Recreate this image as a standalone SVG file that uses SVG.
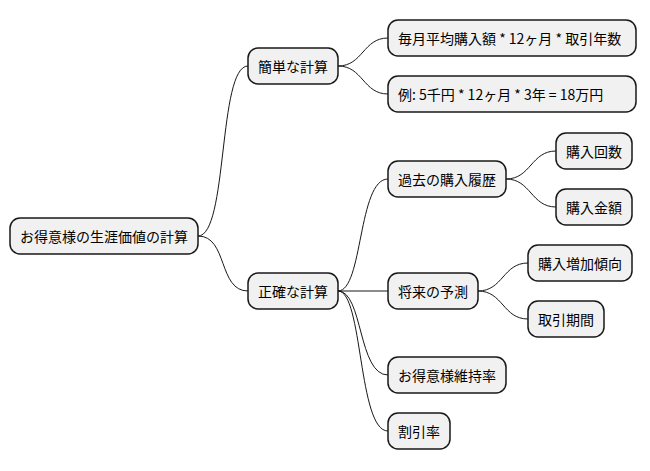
<svg xmlns="http://www.w3.org/2000/svg" width="650" height="471" viewBox="0 0 650 471">
<style>
.n rect{fill:#F1F1F1;stroke:#181818;stroke-width:1.5}
.n text{font-family:"Noto Sans CJK JP","Noto Sans",sans-serif;font-size:14px;fill:#000;dominant-baseline:central}
#edges path{fill:none;stroke:#181818;stroke-width:1}
</style>
<rect width="650" height="471" fill="#fff"/>
<g id="edges">
<path d="M198,236 C228,236 218,66 248,66"/>
<path d="M198,236 C228,236 218,291 248,291"/>
<path d="M338,66 C363,66 363,38 388,38"/>
<path d="M338,66 C363,66 363,94 388,94"/>
<path d="M338,291 C363,291 358,179 388,179"/>
<path d="M338,291 L388,291"/>
<path d="M338,291 C363,291 358,375 388,375"/>
<path d="M338,291 C363,291 358,431 388,431"/>
<path d="M506,179 C531,179 531,151 556,151"/>
<path d="M506,179 C531,179 531,207 556,207"/>
<path d="M478,291 C503,291 503,263 528,263"/>
<path d="M478,291 C503,291 503,319 528,319"/>
</g>
<g id="root" class="n"><rect x="10" y="218" width="188" height="36" rx="10"/><text x="20" y="236">お得意様の生涯価値の計算</text></g>
<g id="simple" class="n"><rect x="248" y="48" width="90" height="36" rx="10"/><text x="258" y="66">簡単な計算</text></g>
<g id="exact" class="n"><rect x="248" y="273" width="90" height="36" rx="10"/><text x="258" y="291">正確な計算</text></g>
<g id="formula" class="n"><rect x="388" y="20" width="248" height="36" rx="10"/><text x="398" y="38">毎月平均購入額 * 12ヶ月 * 取引年数</text></g>
<g id="example" class="n"><rect x="388" y="76" width="248" height="36" rx="10"/><text x="398" y="94">例: 5千円 * 12ヶ月 * 3年 = 18万円</text></g>
<g id="history" class="n"><rect x="388" y="161" width="118" height="36" rx="10"/><text x="398" y="179">過去の購入履歴</text></g>
<g id="count" class="n"><rect x="556" y="133" width="76" height="36" rx="10"/><text x="566" y="151">購入回数</text></g>
<g id="amount" class="n"><rect x="556" y="189" width="76" height="36" rx="10"/><text x="566" y="207">購入金額</text></g>
<g id="forecast" class="n"><rect x="388" y="273" width="90" height="36" rx="10"/><text x="398" y="291">将来の予測</text></g>
<g id="trend" class="n"><rect x="528" y="245" width="104" height="36" rx="10"/><text x="538" y="263">購入増加傾向</text></g>
<g id="period" class="n"><rect x="528" y="301" width="76" height="36" rx="10"/><text x="538" y="319">取引期間</text></g>
<g id="retention" class="n"><rect x="388" y="357" width="118" height="36" rx="10"/><text x="398" y="375">お得意様維持率</text></g>
<g id="discount" class="n"><rect x="388" y="413" width="62" height="36" rx="10"/><text x="398" y="431">割引率</text></g>
</svg>
